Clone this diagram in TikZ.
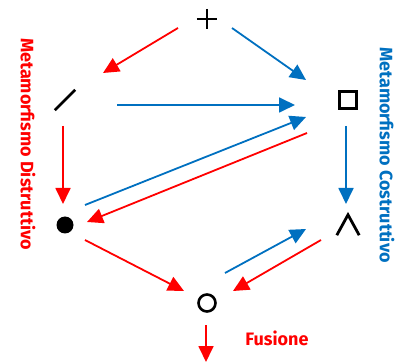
\documentclass[tikz,border=0pt]{standalone}
\usepackage{fontspec}
\setmainfont{Fira Sans}
\usetikzlibrary{arrows.meta,calc,positioning}
\definecolor{rosso}{RGB}{255,0,0}
\definecolor{blu}{RGB}{0,112,192}

\begin{document}
\begin{tikzpicture}[x=1pt,y=-1pt,>={Triangle[length=16pt,width=15pt]},
  every node/.style={font=\bfseries\fontsize{18}{21}\selectfont},
  sym/.style={inner sep=0pt,minimum size=20pt},
  symline/.style={line width=2.8pt},
  fr/.style={->,rosso,line width=1.8pt},
  fb/.style={->,blu,line width=1.8pt}]
\useasboundingbox (0,0) rectangle (404,363);
% i sei simboli
\node[sym] (plus) at (207,19) {};
\draw[symline] (plus.north)--(plus.south) (plus.west)--(plus.east);
\node[sym] (slash) at (65,100) {};
\draw[symline] (slash.south west)--(slash.north east);
\node[sym,draw,line width=2.6pt,minimum size=17pt] (sq) at (348,100) {};
\node[sym,circle,fill,minimum size=17pt] (dot) at (65,225) {};
\node[sym,minimum width=22pt,minimum height=20pt] (wedge) at (348,225) {};
\draw[symline] (wedge.south west)--(wedge.north)--(wedge.south east);
\node[sym,circle,draw,line width=2.6pt,minimum size=17pt] (circ) at (207,303) {};
\coordinate (out) at (206,362);
% frecce
\draw[fr] ($(plus)+(-29,9)$) -- ($(slash)+(38,-27)$);
\draw[fb] ($(plus)+(25,9)$) -- ($(sq)+(-42,-20)$);
\draw[fb] ($(slash)+(52,5)$) -- ($(sq)+(-53,5)$);
\draw[fb] ($(dot)+(20,-20)$) -- ($(sq)+(-42,17)$);
\draw[fr] ($(sq)+(-41,33)$) -- ($(dot)+(22,-3)$);
\draw[fr] ($(slash)+(-2,26)$) -- ($(dot)+(-2,-21)$);
\draw[fb] ($(sq)+(-2,26)$) -- ($(wedge)+(-2,-21)$);
\draw[fr] ($(dot)+(20,15)$) -- ($(circ)+(-23,-12)$);
\draw[fb] ($(circ)+(18,-30)$) -- ($(wedge)+(-42,4)$);
\draw[fr] ($(wedge)+(-27,15)$) -- ($(circ)+(26,-12)$);
\draw[fr] ($(circ)+(-1,22)$) -- (out);
% scritte
\node[rosso,rotate=-90] (distr) at (28,144) {Metamorfismo Distruttivo};
\node[blu,rotate=-90] (costr) at (387,155) {Metamorfismo Costruttivo};
\node[rosso] (fus) at (277,338) {Fusione};
\end{tikzpicture}
\end{document}
